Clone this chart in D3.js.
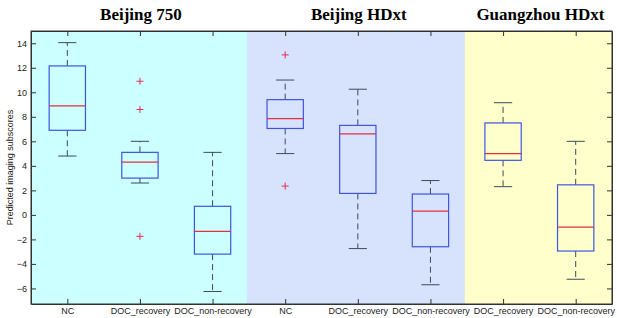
<!DOCTYPE html>
<html>
<head>
<meta charset="utf-8">
<script src="https://cdn.jsdelivr.net/npm/d3@7"></script>
<style>
  body { margin: 0; background: #fff; }
  text { font-family: "Liberation Sans", Arial, sans-serif; }
</style>
</head>
<body>
<div id="chart"></div>
<script>
// groups and their categories
const groups = ["Beijing 750", "Beijing HDxt", "Guangzhou HDxt"];
const groupColors = ["#ccffff", "#d7e2fc", "#ffffcc"];
const groupOf = [0, 0, 0, 1, 1, 1, 2, 2];
const categories = ["NC", "DOC_recovery", "DOC_non-recovery",
                    "NC", "DOC_recovery", "DOC_non-recovery",
                    "DOC_recovery", "DOC_non-recovery"];

// box statistics, one entry per category
const whiskerLo = [4.8, 2.6, -6.25, 5.0, -2.75, -5.7, 2.3, -5.25];
const q1        = [6.9, 3.0, -3.2, 7.05, 1.75, -2.6, 4.45, -2.95];
const median    = [8.9, 4.3, -1.35, 7.85, 6.6, 0.3, 5.0, -1.0];
const q3        = [12.15, 5.1, 0.7, 9.4, 7.3, 1.7, 7.5, 2.45];
const whiskerHi = [14.05, 6.0, 5.1, 11.0, 10.25, 2.8, 9.15, 6.0];
const outliers  = [[], [10.9, 8.6, -1.75], [], [13.05, 2.35], [], [], [], []];

const yTicks = [-6, -4, -2, 0, 2, 4, 6, 8, 10, 12, 14];

const W = 617, H = 318;
const margin = {top: 31, right: 5, bottom: 14, left: 31};
const width = W - margin.left - margin.right,
      height = H - margin.top - margin.bottom;

const svg = d3.select("#chart").append("svg")
    .attr("width", W).attr("height", H)
    .append("g")
    .attr("transform", `translate(${margin.left},${margin.top})`);

const x = d3.scaleLinear().domain([0.5, categories.length + 0.5]).range([0, width]);
const y = d3.scaleLinear().domain([-7.27, 15]).range([height, 0]);

// background bands
const bands = groups.map((g, i) => {
    const idx = groupOf.map((v, k) => v === i ? k + 1 : null).filter(v => v !== null);
    return {name: g, color: groupColors[i], lo: d3.min(idx) - 0.5, hi: d3.max(idx) + 0.5};
});
svg.selectAll(".band").data(bands).enter().append("rect")
    .attr("x", d => x(d.lo) - (d.lo > 0.5 ? 2 : 0))
    .attr("width", d => x(d.hi) - x(d.lo) + (d.lo > 0.5 ? 2 : 0))
    .attr("y", 0).attr("height", height)
    .attr("fill", d => d.color);

// titles
svg.selectAll(".title").data(bands).enter().append("text")
    .attr("x", d => (x(d.lo) + x(d.hi)) / 2 + 1)
    .attr("y", -11)
    .attr("text-anchor", "middle")
    .style("font-family", "'Liberation Serif', 'Times New Roman', serif")
    .style("font-weight", "bold")
    .style("font-size", "17px")
    .text(d => d.name);

const axisColor = "#333";
const pos = categories.map((c, i) => i + 1);

// axes (ticks inside, like a matlab box)
const xb = svg.append("g").attr("transform", `translate(0,${height})`)
    .call(d3.axisBottom(x).tickValues(pos).tickSizeInner(-5).tickSizeOuter(0)
        .tickPadding(4).tickFormat((d, i) => categories[i]));
const xt = svg.append("g")
    .call(d3.axisTop(x).tickValues(pos).tickSizeInner(-5).tickSizeOuter(0).tickFormat(""));
const yl = svg.append("g")
    .call(d3.axisLeft(y).tickValues(yTicks).tickSizeInner(-5).tickSizeOuter(0).tickPadding(4)
        .tickFormat(d3.format("d")));
const yr = svg.append("g").attr("transform", `translate(${width},0)`)
    .call(d3.axisRight(y).tickValues(yTicks).tickSizeInner(-5).tickSizeOuter(0).tickFormat(""));
[xb, xt, yl, yr].forEach(a => {
    a.selectAll("path, line").attr("stroke", axisColor);
    a.selectAll("text").attr("fill", "#222").style("font-size", "9px");
});

svg.append("text")
    .attr("transform", "rotate(-90)")
    .attr("x", -height / 2)
    .attr("y", -18)
    .attr("text-anchor", "middle")
    .style("font-size", "9px")
    .attr("fill", "#222")
    .text("Predicted imaging subscores");

// boxes
const boxW = 0.5, capW = 0.25;
const data = categories.map((c, i) => ({
    p: i + 1, lo: whiskerLo[i], q1: q1[i], med: median[i], q3: q3[i], hi: whiskerHi[i], out: outliers[i]
}));
const box = svg.selectAll(".box").data(data).enter().append("g");

box.append("line")
    .attr("x1", d => x(d.p)).attr("x2", d => x(d.p))
    .attr("y1", d => y(d.q3)).attr("y2", d => y(d.hi))
    .attr("stroke", "#3d4a5c").attr("stroke-dasharray", "6,4").attr("stroke-width", 1);
box.append("line")
    .attr("x1", d => x(d.p)).attr("x2", d => x(d.p))
    .attr("y1", d => y(d.q1)).attr("y2", d => y(d.lo))
    .attr("stroke", "#3d4a5c").attr("stroke-dasharray", "6,4").attr("stroke-width", 1);
box.selectAll(".cap").data(d => [d.lo, d.hi].map(v => ({p: d.p, v: v}))).enter().append("line")
    .attr("x1", d => x(d.p - capW / 2)).attr("x2", d => x(d.p + capW / 2))
    .attr("y1", d => y(d.v)).attr("y2", d => y(d.v))
    .attr("stroke", "#3d4a5c").attr("stroke-width", 1);
box.append("rect")
    .attr("x", d => x(d.p - boxW / 2))
    .attr("width", x(boxW) - x(0))
    .attr("y", d => y(d.q3))
    .attr("height", d => y(d.q1) - y(d.q3))
    .attr("fill", "none").attr("stroke", "#3f55e0").attr("stroke-width", 1.2);
box.append("line")
    .attr("x1", d => x(d.p - boxW / 2)).attr("x2", d => x(d.p + boxW / 2))
    .attr("y1", d => y(d.med)).attr("y2", d => y(d.med))
    .attr("stroke", "#e03040").attr("stroke-width", 1.2);
box.selectAll(".out").data(d => d.out.map(v => ({p: d.p, v: v}))).enter().append("path")
    .attr("d", d => `M${x(d.p) - 3.5},${y(d.v)}h7M${x(d.p)},${y(d.v) - 3.5}v7`)
    .attr("stroke", "#e03050").attr("stroke-width", 1);

// frame on top
svg.append("rect").attr("width", width).attr("height", height)
    .attr("fill", "none").attr("stroke", axisColor);
</script>
</body>
</html>
